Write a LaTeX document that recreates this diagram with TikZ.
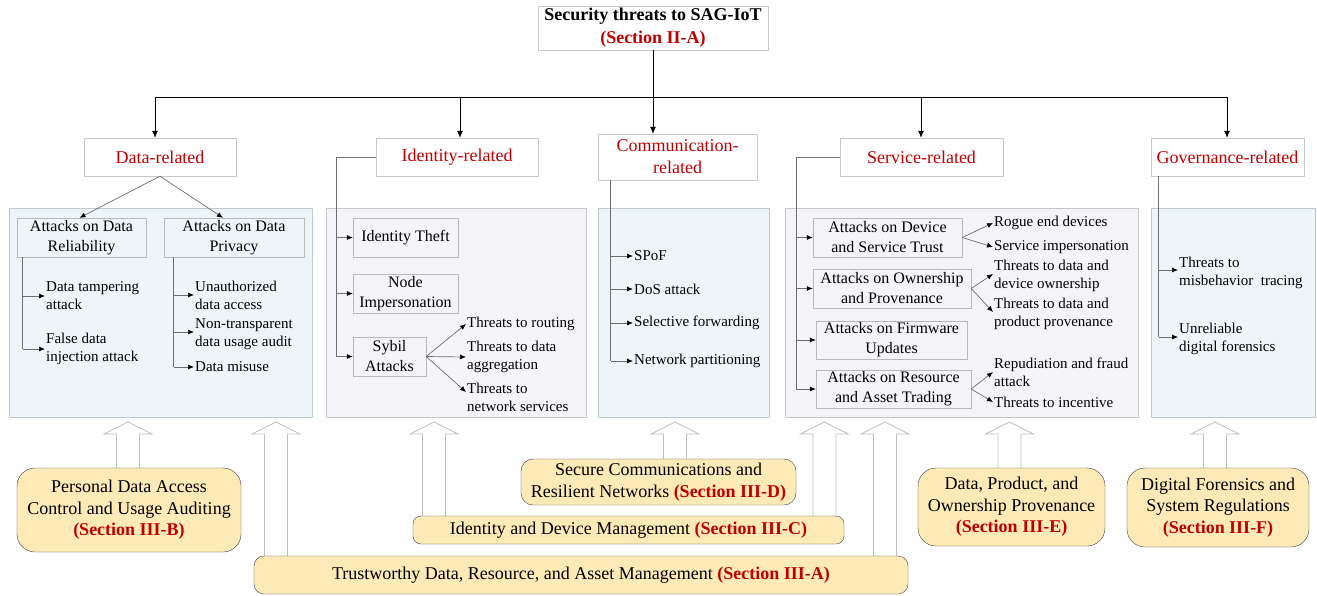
\documentclass[tikz,border=0pt]{standalone}
\usepackage{fontspec}
\setmainfont{Liberation Serif}
\usetikzlibrary{arrows.meta}

\definecolor{secred}{RGB}{192,0,0}
\definecolor{catline}{RGB}{200,200,200}
\definecolor{bluefill}{RGB}{237,245,248}
\definecolor{blueline}{RGB}{188,200,205}
\definecolor{lavfill}{RGB}{245,244,249}
\definecolor{lavline}{RGB}{198,198,204}
\definecolor{boxline}{RGB}{185,185,185}
\definecolor{treegray}{RGB}{110,110,110}
\definecolor{solfill}{RGB}{253,234,183}
\definecolor{blockline}{RGB}{190,190,190}

\tikzset{
  catbox/.style={draw=catline,fill=white,text=secred,align=center,
    inner sep=0pt,minimum height=38pt,font=\fontsize{18}{22}\selectfont},
  bluepanel/.style={draw=blueline,fill=bluefill,inner sep=0pt,minimum height=209pt},
  lavpanel/.style={draw=lavline,fill=lavfill,inner sep=0pt,minimum height=209pt},
  subbox/.style={draw=boxline,align=center,inner sep=0pt,
    font=\fontsize{16}{20}\selectfont},
  leaf/.style={anchor=west,align=left,inner sep=1pt,
    font=\fontsize{15}{18}\selectfont},
  solbox/.style={draw=black!75,fill=solfill,align=center,inner sep=0pt,
    font=\fontsize{18}{21.5}\selectfont},
  bus/.style={line width=0.8pt},
  busarrow/.style={line width=0.8pt,-{Latex[length=7pt,width=6pt]}},
  treeline/.style={draw=treegray,line width=0.7pt},
  treearrow/.style={draw=treegray,line width=0.7pt,
    -{Latex[length=6pt,width=5pt,color=black]}},
  blockarrow/.style={draw=blockline,fill=white,line width=0.8pt},
}

\def\redsec#1{\textcolor{secred}{\textbf{#1}}}

\begin{document}
\begin{tikzpicture}[x=1pt,y=-1pt]
      \useasboundingbox (0,0) rectangle (1317,595);

      \def\upblock#1#2{%
        \draw[blockarrow] (#1-11.5,#2) -- (#1-11.5,434) -- (#1-24,434) --
        (#1,422) -- (#1+24,434) -- (#1+11.5,434) -- (#1+11.5,#2) -- cycle;}

      % root and categories
      \node (title) at (653,28)
            [draw=catline,fill=white,align=center,inner sep=0pt,
             minimum width=230pt,minimum height=44pt,
             font=\bfseries\fontsize{18}{23}\selectfont]
            {Security threats to SAG-IoT\\\textcolor{secred}{(Section II-A)}};

      \node (dataR) at (160,157) [catbox,minimum width=152pt] {Data-related};
      \node (idR) at (457,157) [catbox,minimum width=162pt] {Identity-related};
      \node (comR) at (677.5,157) [catbox,minimum width=159pt,minimum height=46pt]
            {Communication-\\related};
      \node (svcR) at (921.5,157) [catbox,minimum width=163pt] {Service-related};
      \node (govR) at (1227.5,157) [catbox,minimum width=153pt] {Governance-related};

      \coordinate (busmid) at (653,97);
      \coordinate (bD) at (155,97);
      \coordinate (bI) at (460,97);
      \coordinate (bS) at (921,97);
      \coordinate (bG) at (1227,97);

      \draw[bus] (title.south) -- (busmid);
      \draw[bus] (bD) -- (bG);
      \draw[busarrow] (bD) -- (bD |- dataR.north);
      \draw[busarrow] (bI) -- (bI |- idR.north);
      \draw[busarrow] (busmid) -- (busmid |- comR.north);
      \draw[busarrow] (bS) -- (bS |- svcR.north);
      \draw[busarrow] (bG) -- (bG |- govR.north);

      % panels
      \node (dataP) at (160.5,312.5) [bluepanel,minimum width=303pt] {};
      \node (idP) at (456,312.5) [lavpanel,minimum width=260pt] {};
      \node (comP) at (683.5,312.5) [bluepanel,minimum width=171pt] {};
      \node (svcP) at (961.5,312.5) [lavpanel,minimum width=353pt] {};
      \node (govP) at (1233,312.5) [bluepanel,minimum width=164pt] {};

      % data-related
      \node (relB) at (81.5,237.5) [subbox,fill=bluefill,minimum width=129pt,
            minimum height=39pt] {Attacks on Data\\Reliability};
      \node (privB) at (234,237.5) [subbox,fill=bluefill,minimum width=140pt,
            minimum height=39pt] {Attacks on Data\\Privacy};
      \draw[treearrow] (dataR.south) -- ([xshift=-2pt]relB.north);
      \draw[treearrow] (dataR.south) -- ([xshift=-11pt]privB.north);

      \coordinate (relspine) at ([xshift=6pt]relB.south west);
      \node (tamper) at (45,296) [leaf] {Data tampering\\attack};
      \node (falsed) at (45,349) [leaf] {False data\\injection attack};
      \draw[treeline] (relspine) -- (relspine |- falsed.west);
      \draw[treearrow] (relspine |- tamper.west) -- (tamper.west);
      \draw[treearrow] (relspine |- falsed.west) -- (falsed.west);

      \coordinate (privspine) at ([xshift=10pt]privB.south west);
      \node (unauth) at (194,295) [leaf] {Unauthorized\\data access};
      \node (nontr) at (194,334) [leaf] {Non-transparent\\data usage audit};
      \node (misuse) at (194,367) [leaf] {Data misuse};
      \draw[treeline] (privspine) -- (privspine |- misuse.west);
      \draw[treearrow] (privspine |- unauth.west) -- (unauth.west);
      \draw[treearrow] ([yshift=2pt]privspine |- nontr.west) -- ([yshift=2pt]nontr.west);
      \draw[treearrow] (privspine |- misuse.west) -- (misuse.west);

      % identity-related
      \node (idTheft) at (405.5,237.5) [subbox,fill=lavfill,minimum width=105pt,
            minimum height=39pt] {Identity Theft};
      \node (nodeImp) at (405.5,293.5) [subbox,fill=lavfill,minimum width=105pt,
            minimum height=39pt] {Node\\Impersonation};
      \node (sybil) at (389.5,356.5) [subbox,fill=lavfill,minimum width=73pt,
            minimum height=39pt] {Sybil\\Attacks};

      \coordinate (idspine) at (336,157);
      \draw[treeline] (idR.west) -- (idspine) -- (idspine |- sybil.west);
      \draw[treearrow] (idspine |- idTheft.west) -- (idTheft.west);
      \draw[treearrow] (idspine |- nodeImp.west) -- (nodeImp.west);
      \draw[treearrow] (idspine |- sybil.west) -- (sybil.west);

      \node (routing) at (466,324) [leaf] {Threats to routing};
      \node (aggr) at (466,357) [leaf] {Threats to data\\aggregation};
      \node (netsv) at (466,397) [leaf] {Threats to\\network services};
      \draw[treearrow] (sybil.east) -- (routing.west);
      \draw[treearrow] (sybil.east) -- (aggr.west);
      \draw[treearrow] (sybil.east) -- ([yshift=5pt]netsv.west);

      % communication-related
      \coordinate (comspine) at ([xshift=13pt]comR.south west);
      \node (spof) at (633,256) [leaf] {SPoF};
      \node (dos) at (633,289) [leaf] {DoS attack};
      \node (selfw) at (633,323) [leaf] {Selective forwarding};
      \node (netpart) at (633,361) [leaf] {Network partitioning};
      \draw[treeline] (comspine) -- (comspine |- netpart.west);
      \draw[treearrow] (comspine |- spof.west) -- (spof.west);
      \draw[treearrow] (comspine |- dos.west) -- (dos.west);
      \draw[treearrow] (comspine |- selfw.west) -- (selfw.west);
      \draw[treearrow] (comspine |- netpart.west) -- (netpart.west);

      % service-related
      \node (devB) at (887.5,237.5) [subbox,fill=lavfill,minimum width=149pt,
            minimum height=39pt] {Attacks on Device\\and Service Trust};
      \node (ownB) at (892,288.5) [subbox,fill=lavfill,minimum width=158pt,
            minimum height=39pt] {Attacks on Ownership\\and Provenance};
      \node (fwB) at (891.5,340) [subbox,fill=lavfill,minimum width=151pt,
            minimum height=38pt] {Attacks on Firmware\\Updates};
      \node (resB) at (893.5,389) [subbox,fill=lavfill,minimum width=155pt,
            minimum height=38pt] {Attacks on Resource\\and Asset Trading};

      \coordinate (svcspine) at (796,157);
      \draw[treeline] (svcR.west) -- (svcspine) -- (svcspine |- resB.west);
      \draw[treearrow] (svcspine |- devB.west) -- (devB.west);
      \draw[treearrow] (svcspine |- ownB.west) -- (ownB.west);
      \draw[treearrow] (svcspine |- fwB.west) -- (fwB.west);
      \draw[treearrow] (svcspine |- resB.west) -- (resB.west);

      \node (rogue) at (993,223) [leaf] {Rogue end devices};
      \node (servimp) at (993,247) [leaf] {Service impersonation};
      \node (ownDev) at (993,276) [leaf] {Threats to data and\\device ownership};
      \node (ownProd) at (993,314) [leaf] {Threats to data and\\product provenance};
      \node (repud) at (993,372) [leaf] {Repudiation and fraud\\attack};
      \node (incent) at (993,402) [leaf] {Threats to incentive};
      \draw[treearrow] (devB.east) -- (rogue.west);
      \draw[treearrow] (devB.east) -- (servimp.west);
      \draw[treearrow] (ownB.east) -- ([yshift=2pt]ownDev.west);
      \draw[treearrow] (ownB.east) -- ([yshift=2pt]ownProd.west);
      \draw[treearrow] (resB.east) -- (repud.west);
      \draw[treearrow] (resB.east) -- (incent.west);

      % governance-related
      \coordinate (govspine) at ([xshift=8pt]govR.south west);
      \node (misb) at (1178,273) [leaf] {Threats to\\misbehavior\ \ tracing};
      \node (unrel) at (1178,339) [leaf] {Unreliable\\digital forensics};
      \draw[treeline] (govspine) -- ([yshift=2pt]govspine |- unrel.west);
      \draw[treearrow] ([yshift=3pt]govspine |- misb.west) -- ([yshift=3pt]misb.west);
      \draw[treearrow] ([yshift=2pt]govspine |- unrel.west) -- ([yshift=2pt]unrel.west);

      % solutions
      \upblock{128}{470}
      \upblock{276}{558}
      \upblock{434}{518}
      \upblock{675}{461}
      \upblock{824.5}{518}
      \upblock{885}{558}
      \upblock{1009.5}{470}
      \upblock{1215}{470}

      \node (persS) at (129,510) [solbox,minimum width=224pt,minimum height=84pt,
            rounded corners=18pt]
            {Personal Data Access\\Control and Usage Auditing\\\redsec{(Section III-B)}};
      \node (trustS) at (581,575) [solbox,minimum width=654pt,minimum height=38pt,
            rounded corners=10pt]
            {Trustworthy Data, Resource, and Asset Management \redsec{(Section III-A)}};
      \node (idmS) at (628.5,530) [solbox,minimum width=431pt,minimum height=28pt,
            rounded corners=8pt]
            {Identity and Device Management \redsec{(Section III-C)}};
      \node (commS) at (658.5,482) [solbox,minimum width=275pt,minimum height=46pt,
            rounded corners=12pt]
            {Secure Communications and\\Resilient Networks \redsec{(Section III-D)}};
      \node (provS) at (1011.5,507) [solbox,minimum width=187pt,minimum height=78pt,
            rounded corners=18pt]
            {Data, Product, and\\Ownership Provenance\\\redsec{(Section III-E)}};
      \node (forS) at (1218,507.5) [solbox,minimum width=182pt,minimum height=79pt,
            rounded corners=18pt]
            {Digital Forensics and\\System Regulations\\\redsec{(Section III-F)}};
    \end{tikzpicture}
\end{document}
